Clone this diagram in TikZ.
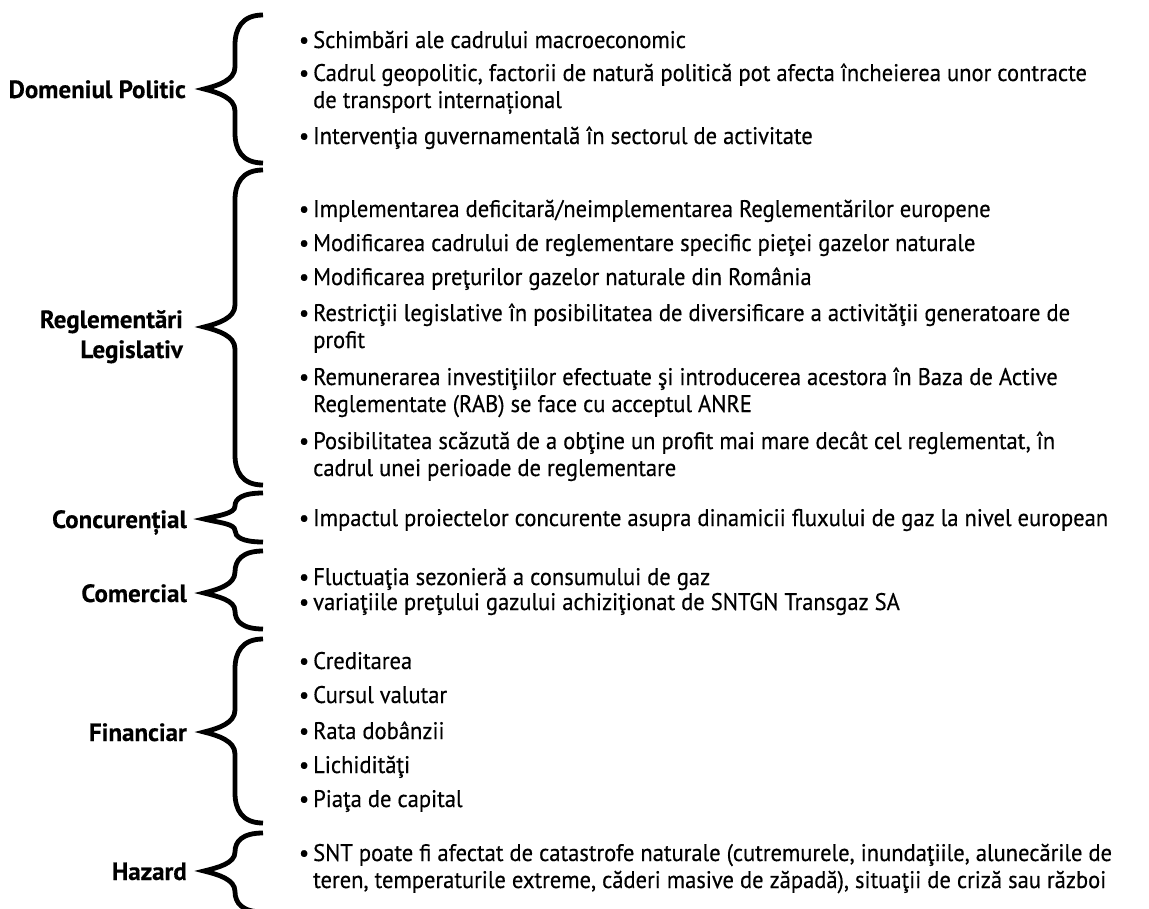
\documentclass[tikz,border=0pt]{standalone}
\usepackage{fontspec}
\setmainfont{PT Sans}[FakeStretch=0.94,FakeBold=0.4]
\newfontfamily\labfont{PT Sans}[FakeStretch=1.0,FakeBold=0.3]
\newcommand{\gbrace}[4]{% #1 name, #2 top, #3 tip, #4 bottom (pixel rows)
  \pgfmathsetmacro{\ga}{min(30,(#3-#2)/2)}
  \pgfmathsetmacro{\gb}{min(22,(#3-#2)/2)}
  \pgfmathsetmacro{\gc}{min(22,(#4-#3)/2)}
  \pgfmathsetmacro{\gd}{min(30,(#4-#3)/2)}
  \coordinate (#1-top) at (263,-#2);
  \coordinate (#1-tip) at (204,-#3);
  \coordinate (#1-bot) at (263,-#4);
  \draw[bracestyle] (#1-top) .. controls (242,-#2) and (235,{-#2-0.45*\ga}) .. (235,{-#2-\ga})
    -- (235,{-#3+\gb}) .. controls (235,{-#3+0.4*\gb}) and (218,{-#3+3.5}) .. (#1-tip)
    .. controls (218,{-#3-3.5}) and (235,{-#3-0.4*\gc}) .. (235,{-#3-\gc})
    -- (235,{-#4+\gd}) .. controls (235,{-#4+0.45*\gd}) and (242,-#4) .. (#1-bot);
}
\newcommand{\bl}{\llap{\textbullet\kern4pt}}
\begin{document}
\begin{tikzpicture}[x=1pt,y=1pt,
  bracestyle/.style={line width=4.8pt, line join=miter, line cap=butt},
  lab/.style={font=\labfont\fontsize{25}{30}\selectfont\bfseries, anchor=base east, align=right, inner sep=0pt},
  itm/.style={font=\fontsize{24}{27}\selectfont, anchor=base west, align=left, inner sep=0pt}]
\useasboundingbox (0,0) rectangle (1149,-908);

% braces
\gbrace{b1}{15}{89}{163}
\gbrace{b2}{170}{327}{485}
\gbrace{b3}{493}{519}{542}
\gbrace{b4}{551}{593}{629}
\gbrace{b5}{639}{732}{823}
\gbrace{b6}{833}{871}{912}

% labels (base = baseline of the last line)
\node[lab] (dom)  at (186,-98)  {Domeniul Politic};
\node[lab] (reg)  at (183,-358) {Reglementări\\Legislativ};
\node[lab] (conc) at (187,-528) {Concurențial};
\node[lab] (com)  at (187,-602) {Comercial};
\node[lab] (fin)  at (187,-741) {Financiar};
\node[lab] (haz)  at (187,-880) {Hazard};

% items (base = baseline of the last line)
\node[itm] (i1)  at (313,-48)  {\bl Schimbări ale cadrului macroeconomic};
\node[itm] (i2)  at (313,-108) {\bl Cadrul geopolitic, factorii de natură politică pot afecta încheierea unor contracte\\de transport internațional};
\node[itm] (i3)  at (313,-144) {\bl Intervenţia guvernamentală în sectorul de activitate};

\node[itm] (i4)  at (313,-217) {\bl Implementarea deficitară/neimplementarea Reglementărilor europene};
\node[itm] (i5)  at (313,-251) {\bl Modificarea cadrului de reglementare specific pieţei gazelor naturale};
\node[itm] (i6)  at (313,-285) {\bl Modificarea preţurilor gazelor naturale din România};
\node[itm] (i7)  at (313,-348) {\bl Restricţii legislative în posibilitatea de diversificare a activităţii generatoare de\\profit};
\node[itm] (i8)  at (313,-412) {\bl Remunerarea investiţiilor efectuate şi introducerea acestora în Baza de Active\\Reglementate (RAB) se face cu acceptul ANRE};
\node[itm] (i9)  at (313,-476) {\bl Posibilitatea scăzută de a obţine un profit mai mare decât cel reglementat, în\\cadrul unei perioade de reglementare};

\node[itm] (i10) at (313,-526) {\bl Impactul proiectelor concurente asupra dinamicii fluxului de gaz la nivel european};

\node[itm] (i11) at (313,-585) {\bl Fluctuaţia sezonieră a consumului de gaz};
\node[itm] (i12) at (313,-610) {\bl variaţiile preţului gazului achiziţionat de SNTGN Transgaz SA};

\node[itm] (i13) at (313,-669) {\bl Creditarea};
\node[itm] (i14) at (313,-703) {\bl Cursul valutar};
\node[itm] (i15) at (313,-739) {\bl Rata dobânzii};
\node[itm] (i16) at (313,-773) {\bl Lichidităţi};
\node[itm] (i17) at (313,-807) {\bl Piaţa de capital};

\node[itm] (i18) at (313,-888) {\bl SNT poate fi afectat de catastrofe naturale (cutremurele, inundaţiile, alunecările de\\teren, temperaturile extreme, căderi masive de zăpadă), situaţii de criză sau război};
\end{tikzpicture}
\end{document}
